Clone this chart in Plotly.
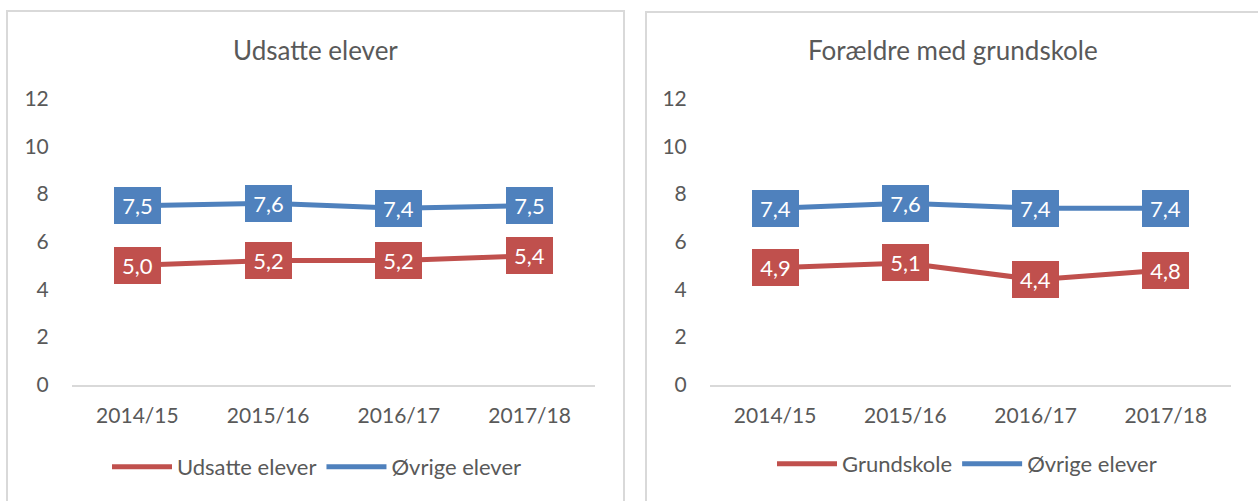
import plotly.graph_objects as go

# ---- data ----
categories = ["2014/15", "2015/16", "2016/17", "2017/18"]
udsatte = [5.0, 5.2, 5.2, 5.4]
ovrige_left = [7.5, 7.6, 7.4, 7.5]
grundskole = [4.9, 5.1, 4.4, 4.8]
ovrige_right = [7.4, 7.6, 7.4, 7.4]
panel_titles = ["Udsatte elever", "Forældre med grundskole"]
y_ticks = [0, 2, 4, 6, 8, 10, 12]

RED = "#C0504D"
BLUE = "#4F81BD"
GREY_TXT = "#595959"
BORDER = "#D9D9D9"
FONT = "Lato"
W, H = 1258, 501


def fx(x):
    return x / W


def fy(y):
    return 1 - y / H


fig = go.Figure()

panels = [
    dict(xa="x", ya="y", legend="legend", title=panel_titles[0],
         series=[("Udsatte elever", udsatte, RED), ("Øvrige elever", ovrige_left, BLUE)]),
    dict(xa="x2", ya="y2", legend="legend2", title=panel_titles[1],
         series=[("Grundskole", grundskole, RED), ("Øvrige elever", ovrige_right, BLUE)]),
]

for p in panels:
    for name, vals, col in p["series"]:
        fig.add_trace(go.Scatter(
            x=categories, y=vals, name=name, mode="lines",
            line=dict(color=col, width=5),
            xaxis=p["xa"], yaxis=p["ya"], legend=p["legend"],
            hoverinfo="skip",
        ))
        for c, v in zip(categories, vals):
            fig.add_annotation(
                x=c, y=v, xref=p["xa"], yref=p["ya"],
                text=f"{v:.1f}".replace(".", ","), showarrow=False,
                bgcolor=col, width=47, height=37, borderpad=0, borderwidth=0,
                font=dict(color="white", size=22, family=FONT),
            )

axis_common = dict(
    type="category", range=[-0.5, 3.5], showgrid=False, zeroline=False,
    showline=True, linecolor=BORDER, linewidth=1.5,
    ticks="outside", ticklen=12, tickcolor="rgba(0,0,0,0)",
    tickfont=dict(size=21, color=GREY_TXT, family=FONT),
)
yaxis_common = dict(
    range=[0, 12], tickvals=y_ticks, showgrid=False, zeroline=False,
    showline=False, ticks="outside", ticklen=18, tickcolor="rgba(0,0,0,0)",
    tickfont=dict(size=21, color=GREY_TXT, family=FONT),
)

fig.update_layout(
    width=W, height=H, margin=dict(l=0, r=0, t=0, b=0, autoexpand=False),
    paper_bgcolor="white", plot_bgcolor="white",
    font=dict(family=FONT, color=GREY_TXT),
    xaxis=dict(domain=[fx(72), fx(595)], anchor="y", automargin=False, **axis_common),
    yaxis=dict(domain=[fy(384.5), fy(98.5)], anchor="x", automargin=False, **yaxis_common),
    xaxis2=dict(domain=[fx(710), fx(1231)], anchor="y2", automargin=False, **axis_common),
    yaxis2=dict(domain=[fy(384.5), fy(98.5)], anchor="x2", automargin=False, **yaxis_common),
    legend=dict(orientation="h", x=fx(317), xanchor="center", y=fy(467), yanchor="middle",
                font=dict(size=22, color=GREY_TXT, family=FONT), bgcolor="rgba(0,0,0,0)",
                itemwidth=60),
    legend2=dict(orientation="h", x=fx(967), xanchor="center", y=fy(464), yanchor="middle",
                 font=dict(size=22, color=GREY_TXT, family=FONT), bgcolor="rgba(0,0,0,0)",
                 itemwidth=60),
    showlegend=True,
)

# panel borders
fig.add_shape(type="rect", xref="paper", yref="paper", x0=fx(7), x1=fx(624), y0=-0.05, y1=fy(11),
              line=dict(color=BORDER, width=2), layer="below")
fig.add_shape(type="rect", xref="paper", yref="paper", x0=fx(646), x1=1.05, y0=-0.05, y1=fy(12),
              line=dict(color=BORDER, width=2), layer="below")

# panel titles
for title, cx in zip(panel_titles, [315.5, 953]):
    fig.add_annotation(x=fx(cx), y=fy(50), xref="paper", yref="paper", text=title,
                       showarrow=False, xanchor="center", yanchor="middle",
                       font=dict(size=26, color=GREY_TXT, family=FONT))

fig.write_html("out.html", config={"displayModeBar": False},
               post_script="document.body.style.margin='0';document.body.style.overflow='hidden';")
